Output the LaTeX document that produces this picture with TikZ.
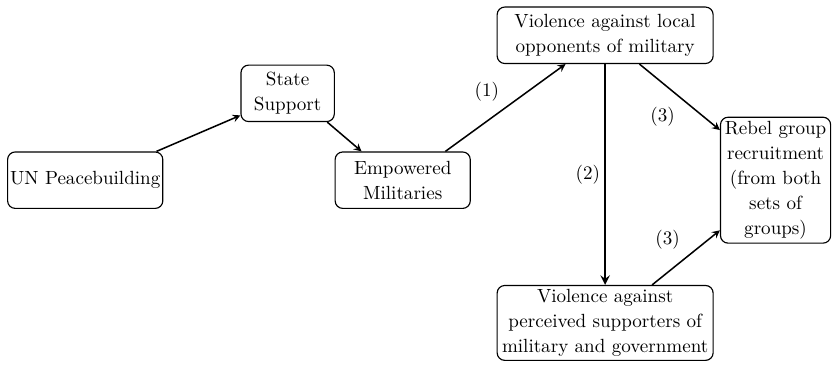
\documentclass[tikz,border=0pt]{standalone}
\usepackage{amsmath}
\usetikzlibrary{arrows}

\begin{document}
\begin{tikzpicture}[box/.style={draw, semithick, rounded corners=4pt, align=center, inner sep=1pt, font=\fontsize{10}{13}\selectfont},
                    link/.style={black, thick, -stealth}]
      \useasboundingbox (0,0) rectangle (15.33,6.72);
      \node [box, minimum width=2.86cm, minimum height=1.04cm] (un) at (1.57,3.40) {UN Peacebuilding};
      \node [box, minimum width=1.72cm, minimum height=1.04cm] (state) at (5.30,5.00) {State\\Support};
      \node [box, minimum width=2.49cm, minimum height=1.04cm] (emp) at (7.42,3.40) {Empowered\\Militaries};
      \node [box, minimum width=3.98cm, minimum height=1.04cm] (local) at (11.15,6.07) {Violence against local\\opponents of military};
      \node [box, minimum width=3.98cm, minimum height=1.38cm] (supp) at (11.15,0.77) {Violence against\\perceived supporters of\\military and government};
      \node [box, minimum width=2.03cm, minimum height=2.32cm] (rebel) at (14.29,3.40) {Rebel group\\recruitment\\(from both\\sets of\\groups)};
      \draw [link] (un.22) -- (state.205);
      \draw [link] (state.-36) -- (emp.145);
      \draw [link] (emp.34) -- (local.216);
      \node (one) at (8.97,5.03) {(1)};
      \draw [link, very thick] (local.south) -- (supp.north);
      \node (two) at (10.83,3.50) {(2)};
      \draw [link] (local.-40) -- (rebel.138);
      \node (threeup) at (12.21,4.57) {(3)};
      \draw [link] (supp.39) -- (rebel.222);
      \node (threedown) at (12.30,2.30) {(3)};
\end{tikzpicture}
\end{document}
